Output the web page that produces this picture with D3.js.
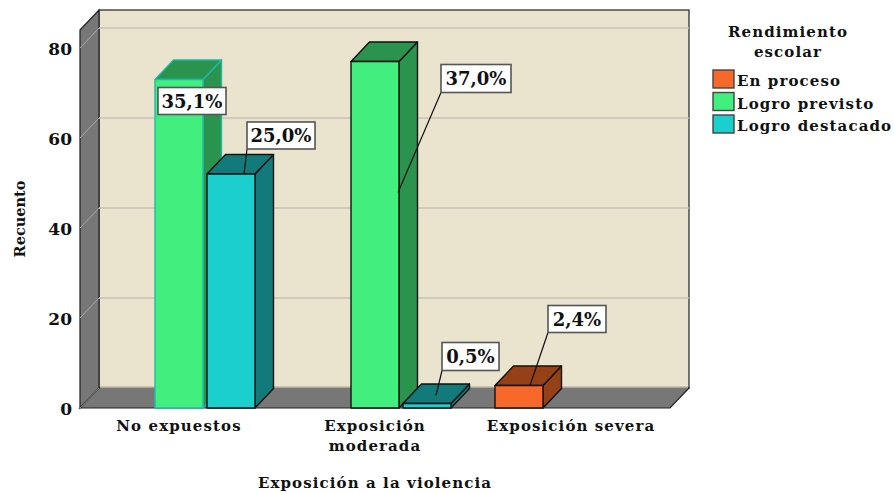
<!DOCTYPE html>
<html><head><meta charset="utf-8">
<script src="https://cdn.jsdelivr.net/npm/d3@7"></script>
<style>
html,body{margin:0;padding:0;background:#fff}
svg{display:block}
text{font-family:"DejaVu Serif",serif;font-weight:bold;fill:#111}
</style></head><body>
<svg id="c" width="894" height="493"></svg>
<script>
const categories = ["No expuestos", "Exposición moderada", "Exposición severa"];
const seriesNames = ["En proceso", "Logro previsto", "Logro destacado"];
const enProceso = [0, 0, 5];
const logroPrevisto = [73, 77, 0];
const logroDestacado = [52, 1, 0];
const yTicks = [0, 20, 40, 60, 80];
const pctEnProceso = [null, null, "2,4%"];
const pctPrevisto = ["35,1%", "37,0%", null];
const pctDestacado = ["25,0%", "0,5%", null];
const legendTitle = ["Rendimiento", "escolar"];
const xTitle = "Exposición a la violencia";
const yTitle = "Recuento";

const faceColors = ["#F7692B", "#41EE7E", "#1BCFCF"];
const sideColors = ["#964018", "#2A944F", "#127A7A"];
const values = [enProceso, logroPrevisto, logroDestacado];
const pcts = [pctEnProceso, pctPrevisto, pctDestacado];

const svg = d3.select("#c");
const L = 80, R = 670, T = 30, B = 408, DX = 19, DY = 20, BDX = 18.5, BDY = 19.5;
const FS = 15, LS = 1.1;
const x = d3.scaleBand().domain(categories).range([L + 1, R - 1]);
const y = d3.scaleLinear().domain([0, 84]).range([B, T]);
const s = d3.scaleBand().domain(seriesNames).range([-76, 76]).paddingInner(0.077).paddingOuter(0);
const poly = p => p.map(q => q.join(",")).join(" ");

// back wall, side wall, floor
svg.append("rect").attr("x", L + DX).attr("y", T - DY).attr("width", R - L).attr("height", B - T)
  .attr("fill", "#EAE4CF").attr("stroke", "#222").attr("stroke-width", 1.2);
svg.append("polygon").attr("points", poly([[L, T], [L + DX, T - DY], [L + DX, B - DY], [L, B]]))
  .attr("fill", "#777").attr("stroke", "#222").attr("stroke-width", 1.2);
svg.append("polygon").attr("points", poly([[L, B], [L + DX, B - DY], [R + DX, B - DY], [R, B]]))
  .attr("fill", "#777").attr("stroke", "#222").attr("stroke-width", 1.2);
svg.append("rect").attr("x", L + DX + 1).attr("y", B - DY - 1.5).attr("width", R - L - 2).attr("height", 2).attr("fill", "#A9A69A");

// gridlines
yTicks.filter(t => t > 0).forEach(t => {
  svg.append("line").attr("x1", L + DX).attr("x2", R + DX).attr("y1", y(t) - DY).attr("y2", y(t) - DY)
    .attr("stroke", "#C6C2B6").attr("stroke-width", 1.6);
  svg.append("line").attr("x1", L).attr("x2", L + DX).attr("y1", y(t)).attr("y2", y(t) - DY)
    .attr("stroke", "#A8A8A8").attr("stroke-width", 1);
});
svg.append("line").attr("x1", L).attr("x2", L + DX).attr("y1", B).attr("y2", B - DY)
  .attr("stroke", "#A8A8A8").attr("stroke-width", 0.8);

// axes
const yAxis = d3.axisLeft(y).tickValues(yTicks).tickSize(0).tickPadding(8);
const yG = svg.append("g").attr("transform", `translate(${L},0)`).call(yAxis);
yG.select(".domain").remove();
yG.selectAll("text").attr("font-size", 17).style("font-family", '"DejaVu Serif",serif').attr("dy", "0.4em");

const xAxis = d3.axisBottom(x).tickSize(0).tickPadding(0);
const xG = svg.append("g").attr("transform", `translate(0,${B})`).call(xAxis);
xG.select(".domain").remove();
xG.selectAll("text").each(function (d) {
  const t = d3.select(this).text(null).attr("y", 0).attr("dy", null)
    .attr("font-size", FS).attr("letter-spacing", LS).style("font-family", '"DejaVu Serif",serif');
  const lines = d === "Exposición moderada" ? ["Exposición", "moderada"] : [d];
  lines.forEach((l, i) => t.append("tspan").attr("x", 0).attr("y", 23 + i * 20).text(l));
});

// bars
const layer = svg.append("g");
categories.forEach((c, ci) => {
  seriesNames.forEach((n, si) => {
    const v = values[si][ci];
    if (!v) return;
    const cx = x(c) + x.bandwidth() / 2;
    const x0 = cx + s(n), x1 = x0 + s.bandwidth();
    const yt = y(v), yb = y(0);
    const line = ci === 0 && si === 1 ? "#22B8A8" : "#111";
    const g = layer.append("g").attr("stroke", line).attr("stroke-width", 1.4).attr("stroke-linejoin", "round");
    g.append("polygon").attr("points", poly([[x1, yt], [x1 + BDX, yt - BDY], [x1 + BDX, yb - BDY], [x1, yb]])).attr("fill", sideColors[si]);
    g.append("polygon").attr("points", poly([[x0, yt], [x0 + BDX, yt - BDY], [x1 + BDX, yt - BDY], [x1, yt]])).attr("fill", sideColors[si]);
    g.append("rect").attr("x", x0).attr("y", yt).attr("width", x1 - x0).attr("height", yb - yt).attr("fill", faceColors[si]);
  });
});

// data labels with leaders: offsets of the label box from the bar's top-left front corner
const callouts = [
  { c: 0, s: 1, bx: 3, by: 8, w: 68, h: 27, ax: null, ay: null },
  { c: 0, s: 2, bx: 40, by: -52, w: 68, h: 27, ax: 37, ay: 0 },
  { c: 1, s: 1, bx: 90, by: 3, w: 70, h: 28, ax: 47, ay: 131 },
  { c: 1, s: 2, bx: 39, by: -61, w: 57, h: 28, ax: 33, ay: -8 },
  { c: 2, s: 0, bx: 53, by: -80, w: 58, h: 27, ax: 35, ay: 0 }
];
callouts.forEach(o => {
  const cat = categories[o.c], name = seriesNames[o.s];
  const v = values[o.s][o.c];
  const bx0 = x(cat) + x.bandwidth() / 2 + s(name), by0 = y(v);
  const rx = bx0 + o.bx, ry = by0 + o.by;
  if (o.ax !== null) {
    svg.append("line").attr("x1", rx).attr("y1", ry + o.h)
      .attr("x2", bx0 + o.ax).attr("y2", by0 + o.ay).attr("stroke", "#111").attr("stroke-width", 1.2);
  }
  svg.append("rect").attr("x", rx).attr("y", ry).attr("width", o.w).attr("height", o.h)
    .attr("fill", "#fff").attr("stroke", "#555").attr("stroke-width", 1.6);
  svg.append("text").attr("x", rx + o.w / 2).attr("y", ry + o.h / 2 + 6.5).attr("text-anchor", "middle")
    .attr("font-size", 18).text(pcts[o.s][o.c]);
});

// titles
svg.append("text").attr("x", 375).attr("y", 488).attr("text-anchor", "middle")
  .attr("font-size", FS).attr("letter-spacing", LS).text(xTitle);
svg.append("text").attr("transform", "translate(25,219) rotate(-90)").attr("text-anchor", "middle")
  .attr("font-size", 14.5).text(yTitle);

// legend
legendTitle.forEach((l, i) => svg.append("text").attr("x", 788).attr("y", 37 + i * 20)
  .attr("text-anchor", "middle").attr("font-size", FS).attr("letter-spacing", LS).text(l));
const ly = d3.scalePoint().domain(seriesNames).range([70, 115]);
seriesNames.forEach((n, i) => {
  svg.append("rect").attr("x", 713).attr("y", ly(n)).attr("width", 21).attr("height", 18)
    .attr("fill", faceColors[i]).attr("stroke", "#444").attr("stroke-width", 1.4);
  svg.append("text").attr("x", 737).attr("y", ly(n) + 16).attr("font-size", FS).attr("letter-spacing", LS).text(n);
});
</script>
</body></html>
